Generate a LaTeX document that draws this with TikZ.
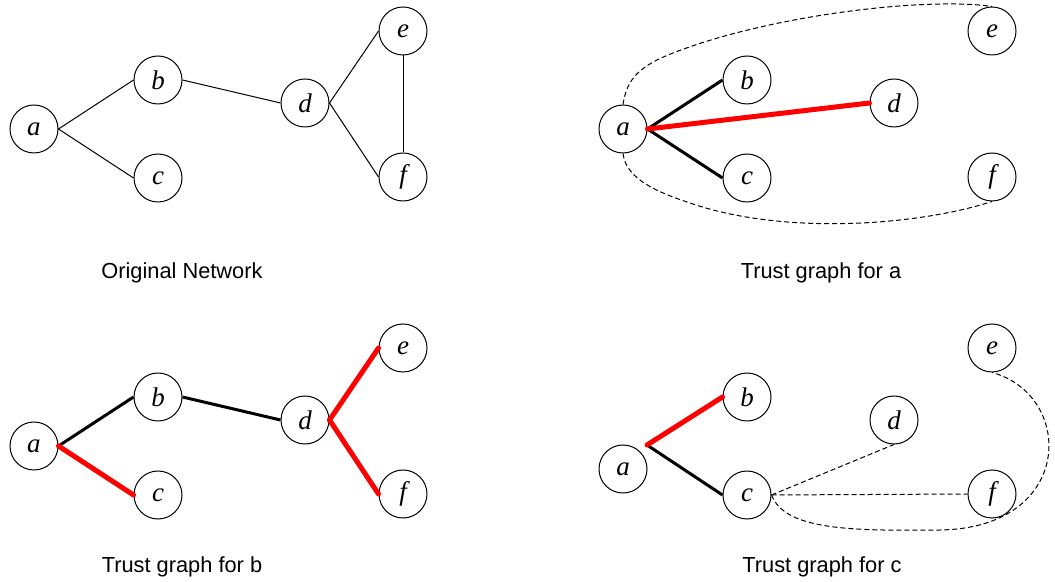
\documentclass[tikz,border=0pt]{standalone}
\usepackage{fontspec}
\setmainfont{Liberation Serif}
\setsansfont{Liberation Sans}
\tikzset{
  peer/.style={circle, draw, line width=0.5pt, minimum size=24pt, inner sep=0pt,
               font=\fontsize{13.5}{15}\selectfont\itshape},
  link/.style={line width=0.5pt},
  keptlink/.style={line width=1.5pt},
  trustlink/.style={line width=2.5pt, red, line cap=round},
  reachlink/.style={line width=0.5pt, dash pattern=on 2.5pt off 1.5pt},
  caption/.style={font=\sffamily\fontsize{10.9}{12}\selectfont},
}
\begin{document}
\begin{tikzpicture}[x=0.5pt, y=-0.5pt]
  \useasboundingbox (0,0) rectangle (1055,582);

  % original network
  \begin{scope}
    \node[peer] (o-a) at (34,129) {a};
    \node[peer] (o-b) at (158,80) {b};
    \node[peer] (o-c) at (158,178) {c};
    \node[peer] (o-d) at (305,103) {d};
    \node[peer] (o-e) at (403,31) {e};
    \node[peer] (o-f) at (403,177) {f};
    \draw[link] (o-a.east) -- (o-b.west);
    \draw[link] (o-a.east) -- (o-c.west);
    \draw[link] (o-b.east) -- (o-d.west);
    \draw[link] (o-d.east) -- (o-e.west);
    \draw[link] (o-d.east) -- (o-f.west);
    \draw[link] (o-e.south) -- (o-f.north);
    \node[caption] (o-cap) at (182,273) {Original Network};
  \end{scope}

  % trust graph for a
  \begin{scope}[shift={(589,0)}]
    \node[peer] (ta-a) at (34,129) {a};
    \node[peer] (ta-b) at (158,80) {b};
    \node[peer] (ta-c) at (158,178) {c};
    \node[peer] (ta-d) at (305,103) {d};
    \node[peer] (ta-e) at (403,31) {e};
    \node[peer] (ta-f) at (403,177) {f};
    \coordinate (ta-top) at (84,53);
    \coordinate (ta-bot) at (101,203);
    \draw[keptlink] (ta-a.east) -- (ta-b.west);
    \draw[keptlink] (ta-a.east) -- (ta-c.west);
    \draw[trustlink] (ta-a.east) -- (ta-d.west);
    \draw[reachlink] (ta-a.north) .. controls (38,78) and (51,66) .. (ta-top)
      .. controls (184,14) and (341,-3) .. (ta-e.north);
    \draw[reachlink] (ta-a.south) .. controls (37,180) and (71,193) .. (ta-bot)
      .. controls (196,236) and (331,225) .. (ta-f.south);
    \node[caption] (ta-cap) at (232,273) {Trust graph for a};
  \end{scope}

  % trust graph for b
  \begin{scope}[shift={(0,317)}]
    \node[peer] (tb-a) at (34,129) {a};
    \node[peer] (tb-b) at (158,80) {b};
    \node[peer] (tb-c) at (158,178) {c};
    \node[peer] (tb-d) at (305,103) {d};
    \node[peer] (tb-e) at (403,31) {e};
    \node[peer] (tb-f) at (403,177) {f};
    \draw[keptlink] (tb-a.east) -- (tb-b.west);
    \draw[keptlink] (tb-b.east) -- (tb-d.west);
    \draw[trustlink] (tb-a.east) -- (tb-c.west);
    \draw[trustlink] (tb-d.east) -- (tb-e.west);
    \draw[trustlink] (tb-d.east) -- (tb-f.west);
    \node[caption] (tb-cap) at (182,250) {Trust graph for b};
  \end{scope}

  % trust graph for c
  \begin{scope}[shift={(589,317)}]
    \node[peer] (tc-a) at (34,152) {a};
    \node[peer] (tc-b) at (158,80) {b};
    \node[peer] (tc-c) at (158,178) {c};
    \node[peer] (tc-d) at (305,103) {d};
    \node[peer] (tc-e) at (403,31) {e};
    \node[peer] (tc-f) at (403,177) {f};
    \coordinate (tc-root) at (58,128);
    \coordinate (tc-low) at (351,213);
    \draw[keptlink] (tc-root) -- (tc-c.west);
    \draw[trustlink] (tc-root) -- (tc-b.west);
    \draw[reachlink] (tc-c.east) -- (tc-d.south);
    \draw[reachlink] (tc-c.east) -- (tc-f.west);
    \draw[reachlink] (tc-c.east) .. controls (196,213) and (261,214) .. (tc-low)
      .. controls (486,211) and (486,78) .. (tc-e.south);
    \node[caption] (tc-cap) at (233,250) {Trust graph for c};
  \end{scope}
\end{tikzpicture}
\end{document}
